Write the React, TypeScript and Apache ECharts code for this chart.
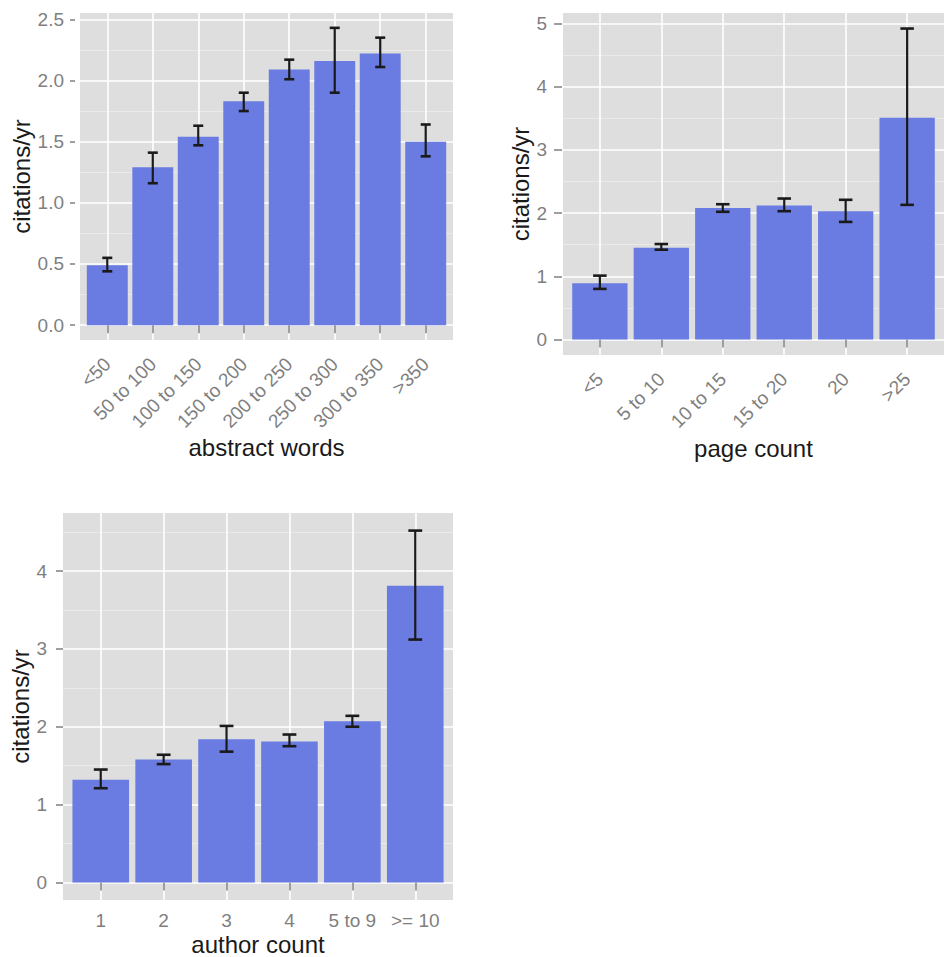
import React, { useEffect, useRef } from "react";
import * as echarts from "echarts";

// ---- data ----
const wordCats = ["<50", "50 to 100", "100 to 150", "150 to 200", "200 to 250", "250 to 300", "300 to 350", ">350"];
const wordMean = [0.49, 1.29, 1.54, 1.83, 2.09, 2.16, 2.22, 1.5];
const wordLow = [0.44, 1.16, 1.47, 1.75, 2.01, 1.9, 2.11, 1.38];
const wordHigh = [0.55, 1.41, 1.63, 1.9, 2.17, 2.43, 2.35, 1.64];

const pageCats = ["<5", "5 to 10", "10 to 15", "15 to 20", "20", ">25"];
const pageMean = [0.89, 1.45, 2.08, 2.12, 2.03, 3.51];
const pageLow = [0.8, 1.42, 2.02, 2.03, 1.86, 2.13];
const pageHigh = [1.01, 1.51, 2.14, 2.23, 2.21, 4.92];

const authorCats = ["1", "2", "3", "4", "5 to 9", ">= 10"];
const authorMean = [1.32, 1.58, 1.84, 1.81, 2.07, 3.81];
const authorLow = [1.21, 1.52, 1.68, 1.75, 2.0, 3.12];
const authorHigh = [1.45, 1.64, 2.01, 1.9, 2.14, 4.52];

const wordTicks = [0, 0.5, 1, 1.5, 2, 2.5];
const wordMinor = [0.25, 0.75, 1.25, 1.75, 2.25];
const pageTicks = [0, 1, 2, 3, 4, 5];
const pageMinor = [0.5, 1.5, 2.5, 3.5, 4.5];
const authorTicks = [0, 1, 2, 3, 4];
const authorMinor = [0.5, 1.5, 2.5, 3.5, 4.5];

const FONT = "'Liberation Sans', Arial, Helvetica, sans-serif";
const BAR = "#6a7ce2";
const BG = "#dedede";
const MINOR = "#eaeaea";
const TICKCOL = "#7f7f7f";
const LABEL_SIZE = 19;
const TITLE_SIZE = 24;

const panels = [
  {
    cats: wordCats, mean: wordMean, low: wordLow, high: wordHigh, ticks: wordTicks, minor: wordMinor,
    decimals: 1, xName: "abstract words",
    grid: { left: 80, top: 13, width: 373, height: 327 },
    rotate: 45, xOffset: 1, xTickLen: 8, xLabelMargin: 20, xNameGap: 94,
    yOffset: 5, yTickLen: 5, yLabelMargin: 11, yNameGap: 38,
  },
  {
    cats: pageCats, mean: pageMean, low: pageLow, high: pageHigh, ticks: pageTicks, minor: pageMinor,
    decimals: 0, xName: "page count",
    grid: { left: 563, top: 13, width: 391, height: 342 },
    rotate: 45, xOffset: 1, xTickLen: 8, xLabelMargin: 20, xNameGap: 80,
    yOffset: 1, yTickLen: 8, yLabelMargin: 15, yNameGap: 27,
  },
  {
    cats: authorCats, mean: authorMean, low: authorLow, high: authorHigh, ticks: authorTicks, minor: authorMinor,
    decimals: 0, xName: "author count",
    grid: { left: 63, top: 513, width: 390, height: 389 },
    rotate: 0, xOffset: 0, xTickLen: 8, xLabelMargin: 11, xNameGap: 32,
    yOffset: 0, yTickLen: 7, yLabelMargin: 16, yNameGap: 26,
  },
];

function buildOption() {
  const grid: any[] = [];
  const xAxis: any[] = [];
  const yAxis: any[] = [];
  const series: any[] = [];

  panels.forEach((p, i) => {
    const n = p.cats.length;
    const idx = p.cats.map((_, k) => k + 1);
    const lo = Math.min(0, ...p.low);
    const hi = Math.max(...p.high);
    const pad = 0.05 * (hi - lo);

    grid.push({ ...p.grid, show: true, backgroundColor: BG, borderWidth: 0, containLabel: false });

    xAxis.push({
      type: "value",
      gridIndex: i,
      min: 0.4,
      max: n + 0.6,
      offset: p.xOffset,
      axisLine: { show: false },
      axisTick: { show: true, length: p.xTickLen, customValues: idx, lineStyle: { color: TICKCOL, width: 1.5 } },
      axisLabel: {
        customValues: idx,
        formatter: (v: number) => p.cats[Math.round(v) - 1] ?? "",
        rotate: p.rotate,
        margin: p.xLabelMargin,
        color: TICKCOL,
        fontSize: LABEL_SIZE,
        fontFamily: FONT,
      },
      splitLine: { show: true, lineStyle: { color: "#ffffff", width: 1.6 } },
      name: p.xName,
      nameLocation: "middle",
      nameGap: p.xNameGap,
      nameTextStyle: { color: "#1a1a1a", fontSize: TITLE_SIZE, fontFamily: FONT },
    });

    yAxis.push({
      type: "value",
      gridIndex: i,
      min: lo - pad,
      max: hi + pad,
      offset: p.yOffset,
      position: "left",
      axisLine: { show: false },
      axisTick: { show: true, length: p.yTickLen, customValues: p.ticks, lineStyle: { color: TICKCOL, width: 1.5 } },
      axisLabel: {
        customValues: p.ticks,
        formatter: (v: number) => v.toFixed(p.decimals),
        margin: p.yLabelMargin,
        color: TICKCOL,
        fontSize: LABEL_SIZE,
        fontFamily: FONT,
      },
      splitLine: { show: true, lineStyle: { color: "#ffffff", width: 1.6 } },
      name: "citations/yr",
      nameLocation: "middle",
      nameGap: p.yNameGap,
      nameRotate: 90,
      nameTextStyle: { color: "#1a1a1a", fontSize: TITLE_SIZE, fontFamily: FONT },
    });
    yAxis.push({
      type: "value",
      gridIndex: i,
      min: lo - pad,
      max: hi + pad,
      position: "left",
      axisLine: { show: false },
      axisTick: { show: false, customValues: p.minor },
      axisLabel: { show: false, customValues: p.minor },
      splitLine: { show: true, lineStyle: { color: MINOR, width: 1 } },
    });

    series.push({
      type: "custom",
      xAxisIndex: i,
      yAxisIndex: 2 * i,
      z: 3,
      data: p.mean.map((v, k) => [k + 1, v]),
      encode: { x: 0, y: 1 },
      renderItem: (_params: any, api: any) => {
        const x = api.value(0);
        const y = api.value(1);
        const a = api.coord([x - 0.45, y]);
        const b = api.coord([x + 0.45, 0]);
        return {
          type: "rect",
          shape: { x: a[0], y: a[1], width: b[0] - a[0], height: b[1] - a[1] },
          style: { fill: BAR },
        };
      },
    });
    series.push({
      type: "custom",
      xAxisIndex: i,
      yAxisIndex: 2 * i,
      z: 4,
      data: p.mean.map((_, k) => [k + 1, p.low[k], p.high[k]]),
      encode: { x: 0, y: [1, 2] },
      renderItem: (_params: any, api: any) => {
        const x = api.value(0);
        const l = api.value(1);
        const h = api.value(2);
        const top = api.coord([x, h]);
        const bot = api.coord([x, l]);
        const tl = api.coord([x - 0.11, h]);
        const tr = api.coord([x + 0.11, h]);
        const bl = api.coord([x - 0.11, l]);
        const br = api.coord([x + 0.11, l]);
        const st = { stroke: "#1a1a1a", lineWidth: 2.2 };
        return {
          type: "group",
          children: [
            { type: "line", shape: { x1: top[0], y1: top[1], x2: bot[0], y2: bot[1] }, style: st },
            { type: "line", shape: { x1: tl[0], y1: tl[1], x2: tr[0], y2: tr[1] }, style: { ...st, lineWidth: 2.6 } },
            { type: "line", shape: { x1: bl[0], y1: bl[1], x2: br[0], y2: br[1] }, style: { ...st, lineWidth: 2.6 } },
          ],
        };
      },
    });
  });

  return {
    animation: false,
    backgroundColor: "#ffffff",
    textStyle: { fontFamily: FONT },
    grid,
    xAxis,
    yAxis,
    series,
  };
}

export default function App() {
  const ref = useRef<HTMLDivElement>(null);
  useEffect(() => {
    if (!ref.current) return;
    const chart = echarts.init(ref.current, undefined, { renderer: "svg" });
    chart.setOption(buildOption() as any);
    return () => chart.dispose();
  }, []);
  return (
    <div
      ref={ref}
      style={{ position: "absolute", left: 0, top: 0, width: 944, height: 957, overflow: "hidden" }}
    />
  );
}
